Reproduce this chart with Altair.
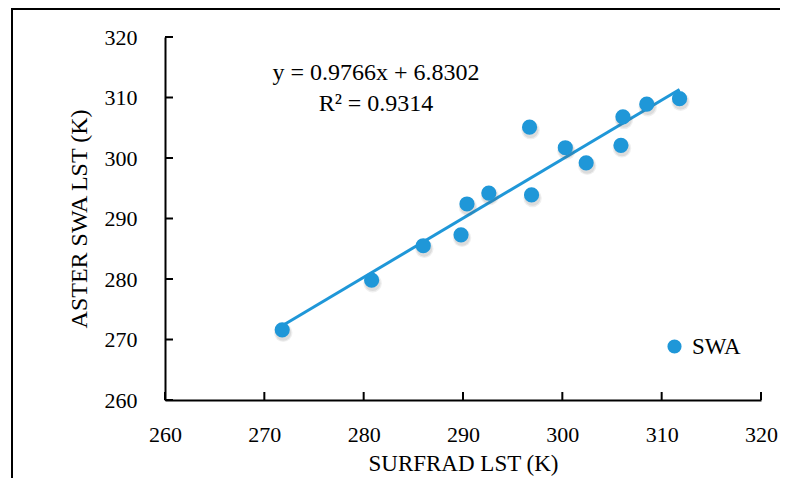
import altair as alt
import pandas as pd

# Data
surfrad = [271.8, 280.8, 286.0, 289.8, 290.4, 292.6, 296.9, 296.7, 300.3, 302.4, 305.9, 306.1, 308.5, 311.8]
aster = [271.6, 279.8, 285.5, 287.3, 292.4, 294.2, 293.9, 305.1, 301.7, 299.2, 302.1, 306.8, 308.9, 309.8]
series_name = "SWA"
slope = 0.9766
intercept = 6.8302
r2 = 0.9314
ticks = [260, 270, 280, 290, 300, 310, 320]

BLUE = "#1f97d8"
FONT = "Liberation Serif"
W, H = 596, 363

pts = pd.DataFrame({"x": surfrad, "y": aster, "s": [series_name] * len(surfrad)})
x_ends = [min(surfrad), max(surfrad)]
fit = pd.DataFrame({"x": x_ends, "y": [slope * v + intercept for v in x_ends]})
tick_df = pd.DataFrame({"t": ticks})
one = pd.DataFrame({"a": [0]})

xscale = alt.Scale(domain=[260, 320], nice=False, zero=False)
yscale = alt.Scale(domain=[260, 320], nice=False, zero=False)

xaxis = alt.Axis(values=ticks, ticks=False, grid=False, domainColor="black", domainWidth=2,
                 labelFlush=False, labelOverlap=False,
                 labelFont=FONT, labelFontSize=22, labelColor="black", labelPadding=24,
                 title="SURFRAD LST (K)", titleFont=FONT, titleFontSize=23, titleFontWeight="normal",
                 titleColor="black", titlePadding=7)
yaxis = alt.Axis(values=ticks, ticks=False, grid=False, domainColor="black", domainWidth=2,
                 labelFlush=False, labelOverlap=False,
                 labelFont=FONT, labelFontSize=22, labelColor="black", labelPadding=28,
                 title="ASTER SWA LST (K)", titleFont=FONT, titleFontSize=24, titleFontWeight="normal",
                 titleColor="black", titlePadding=13)

frame = alt.Chart(one).mark_rect(fill=None, stroke="black", strokeWidth=2).encode(
    x=alt.value(-153), x2=alt.value(700), y=alt.value(-28), y2=alt.value(500))

ytick = alt.Chart(tick_df).mark_rule(color="black", strokeWidth=2).encode(
    y=alt.Y("t:Q", scale=yscale, axis=yaxis), x=alt.value(0), x2=alt.value(8))
xtick = alt.Chart(tick_df).mark_rule(color="black", strokeWidth=2).encode(
    x=alt.X("t:Q", scale=xscale, axis=xaxis), y=alt.value(H), y2=alt.value(H - 8))

line = alt.Chart(fit).mark_line(color=BLUE, strokeWidth=3).encode(
    x=alt.X("x:Q", scale=xscale), y=alt.Y("y:Q", scale=yscale))

shadow1 = alt.Chart(pts).mark_circle(color="#666666", opacity=0.10, size=340, xOffset=1, yOffset=3).encode(
    x=alt.X("x:Q", scale=xscale), y=alt.Y("y:Q", scale=yscale))
shadow2 = alt.Chart(pts).mark_circle(color="#555555", opacity=0.12, size=250, xOffset=1, yOffset=3).encode(
    x=alt.X("x:Q", scale=xscale), y=alt.Y("y:Q", scale=yscale))

points = alt.Chart(pts).mark_circle(opacity=1, size=230).encode(
    x=alt.X("x:Q", scale=xscale), y=alt.Y("y:Q", scale=yscale),
    color=alt.Color("s:N", scale=alt.Scale(domain=[series_name], range=[BLUE]),
                    legend=alt.Legend(title=None, orient="none", legendX=498, legendY=298,
                                      symbolType="circle", symbolSize=200, symbolOpacity=1,
                                      labelFont=FONT, labelFontSize=23, labelColor="black",
                                      padding=0, labelOffset=6)))

eq1 = alt.Chart(one).mark_text(font=FONT, fontSize=24, color="black", align="center", baseline="middle").encode(
    x=alt.value(211), y=alt.value(36), text=alt.value(f"y = {slope}x + {intercept}"))
eq2 = alt.Chart(one).mark_text(font=FONT, fontSize=24, color="black", align="center", baseline="middle").encode(
    x=alt.value(211), y=alt.value(67), text=alt.value(f"R² = {r2}"))

chart = alt.layer(frame, xtick, ytick, line, shadow1, shadow2, points, eq1, eq2).properties(
    width=W, height=H,
    autosize=alt.AutoSizeParams(type="none"),
    padding={"left": 157, "top": 29, "right": 19, "bottom": 78},
).configure_view(stroke=None)

chart.save("out.html", embed_options={"renderer": "svg", "actions": False})
